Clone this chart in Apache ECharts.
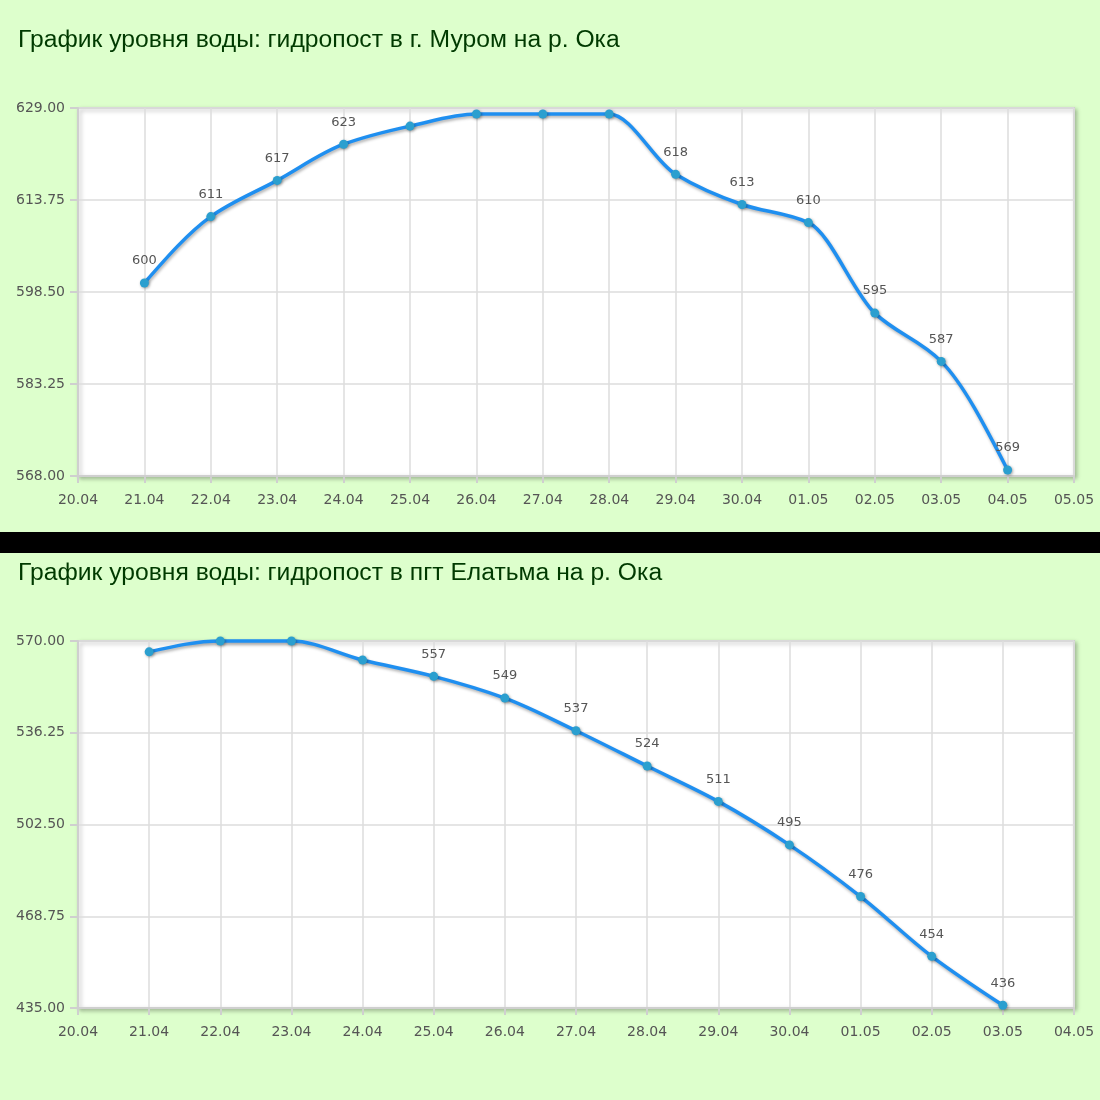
<!DOCTYPE html>
<html>
<head>
<meta charset="UTF-8">
<title>Уровень воды</title>
<script src="https://cdn.jsdelivr.net/npm/echarts@6/dist/echarts.min.js"></script>
<style>
html, body { margin: 0; padding: 0; background: #ddffcc; }
#murom { width: 1100px; height: 532px; }
#sep { width: 1100px; height: 21px; background: #000; }
#elatma { width: 1100px; height: 547px; }
</style>
</head>
<body>
<div id="murom"></div>
<div id="sep"></div>
<div id="elatma"></div>
<script type="text/javascript">
// Муром
var muromTitle = 'График уровня воды: гидропост в г. Муром на р. Ока';
var muromDays = ['20.04', '21.04', '22.04', '23.04', '24.04', '25.04', '26.04', '27.04',
                 '28.04', '29.04', '30.04', '01.05', '02.05', '03.05', '04.05', '05.05'];
var muromLevel = [null, 600, 611, 617, 623, 626, 628, 628, 628, 618, 613, 610, 595, 587, 569, null];
var muromMin = 568, muromMax = 629;

// Елатьма
var elatmaTitle = 'График уровня воды: гидропост в пгт Елатьма на р. Ока';
var elatmaDays = ['20.04', '21.04', '22.04', '23.04', '24.04', '25.04', '26.04', '27.04',
                  '28.04', '29.04', '30.04', '01.05', '02.05', '03.05', '04.05'];
var elatmaLevel = [null, 566, 570, 570, 563, 557, 549, 537, 524, 511, 495, 476, 454, 436, null];
var elatmaMin = 435, elatmaMax = 570;

var textFont = 'DejaVu Sans';

// сглаживание как у constrained cubic spline: касательная 0 там, где наклон меняет знак
// (считается в пикселях: категориальная ось не умеет дробные x)
function splinePath(level, api) {
    var pts = [];
    for (var i = 0; i < level.length; i++) {
        if (level[i] != null) pts.push(api.coord([i, level[i]]));
    }
    var n = pts.length;
    var s = [], d = [];
    for (var i = 0; i < n - 1; i++) {
        s.push((pts[i + 1][1] - pts[i][1]) / (pts[i + 1][0] - pts[i][0]));
    }
    for (var i = 1; i < n - 1; i++) {
        if (s[i - 1] * s[i] <= 0) d[i] = 0;
        else d[i] = 2 / (1 / s[i - 1] + 1 / s[i]);
    }
    d[0] = 1.5 * s[0] - d[1] / 2;
    d[n - 1] = 1.5 * s[n - 2] - d[n - 2] / 2;

    var path = 'M' + pts[0][0] + ' ' + pts[0][1];
    for (var i = 0; i < n - 1; i++) {
        var h = (pts[i + 1][0] - pts[i][0]) / 3;
        path += ' C' + (pts[i][0] + h) + ' ' + (pts[i][1] + h * d[i]) +
                ' ' + (pts[i + 1][0] - h) + ' ' + (pts[i + 1][1] - h * d[i + 1]) +
                ' ' + pts[i + 1][0] + ' ' + pts[i + 1][1];
    }
    return path;
}

function makeOption(title, days, level, min, max, titleTop, grid) {
    var pairs = [];
    for (var i = 0; i < level.length; i++) {
        if (level[i] != null) pairs.push([i, level[i]]);
    }
    return {
        animation: false,
        title: {
            text: title,
            left: 13,
            top: titleTop,
            textStyle: { fontFamily: 'Liberation Sans', fontSize: 24.7, fontWeight: 'normal', color: '#003a00' }
        },
        grid: {
            left: grid[0], right: grid[1], top: grid[2], bottom: grid[3],
            show: true,
            backgroundColor: '#fff',
            borderColor: '#cfcfcf',
            borderWidth: 2,
            shadowColor: 'rgba(0,0,0,0.25)',
            shadowBlur: 4,
            shadowOffsetX: 2,
            shadowOffsetY: 2
        },
        xAxis: {
            type: 'category',
            data: days,
            boundaryGap: false,
            axisLine: { lineStyle: { color: '#cfcfcf', width: 2 } },
            axisTick: { show: true, length: 7, lineStyle: { color: '#cfcfcf', width: 2 } },
            axisLabel: { interval: 0, margin: 17, color: '#555', fontFamily: textFont, fontSize: 14 },
            splitLine: { show: true, lineStyle: { color: '#dcdcdc', width: 1.5 } }
        },
        yAxis: {
            type: 'value',
            min: min,
            max: max,
            interval: (max - min) / 4,
            axisLine: { show: true, lineStyle: { color: '#cfcfcf', width: 2 } },
            axisTick: { show: true, length: 8, lineStyle: { color: '#cfcfcf', width: 2 } },
            axisLabel: {
                margin: 13, color: '#555', fontFamily: textFont, fontSize: 14,
                formatter: function (v) { return v.toFixed(2); }
            },
            splitLine: { show: true, lineStyle: { color: '#dcdcdc', width: 1.5 } }
        },
        series: [{
            type: 'custom',
            z: 1,
            data: pairs,
            encode: { x: 0, y: 1 },
            renderItem: function (params, api) {
                if (params.dataIndex !== 0) return null;
                return {
                    type: 'path',
                    shape: { pathData: splinePath(level, api) },
                    style: {
                        fill: 'none',
                        stroke: '#1f8ff0',
                        lineWidth: 3.5,
                        shadowColor: 'rgba(0,0,0,0.3)',
                        shadowBlur: 3,
                        shadowOffsetX: 1,
                        shadowOffsetY: 2
                    }
                };
            }
        }, {
            type: 'line',
            z: 3,
            data: level,
            symbol: 'circle',
            symbolSize: 9,
            lineStyle: { width: 0, opacity: 0 },
            itemStyle: {
                color: '#2b9fcf',
                shadowColor: 'rgba(0,0,0,0.35)', shadowBlur: 3, shadowOffsetX: 1, shadowOffsetY: 1
            },
            label: {
                show: true,
                position: 'top',
                distance: 11,
                color: '#555',
                fontFamily: textFont,
                fontSize: 13,
                formatter: function (p) {
                    // подписи у самого верха графика не выводятся
                    return (max - p.value) / (max - min) < 0.07 ? '' : String(p.value);
                }
            }
        }]
    };
}

var muromChart = echarts.init(document.getElementById('murom'));
muromChart.setOption(makeOption(muromTitle, muromDays, muromLevel, muromMin, muromMax, 23, [78, 26, 108, 56]));

var elatmaChart = echarts.init(document.getElementById('elatma'));
elatmaChart.setOption(makeOption(elatmaTitle, elatmaDays, elatmaLevel, elatmaMin, elatmaMax, 3, [78, 26, 88, 92]));
</script>
</body>
</html>
